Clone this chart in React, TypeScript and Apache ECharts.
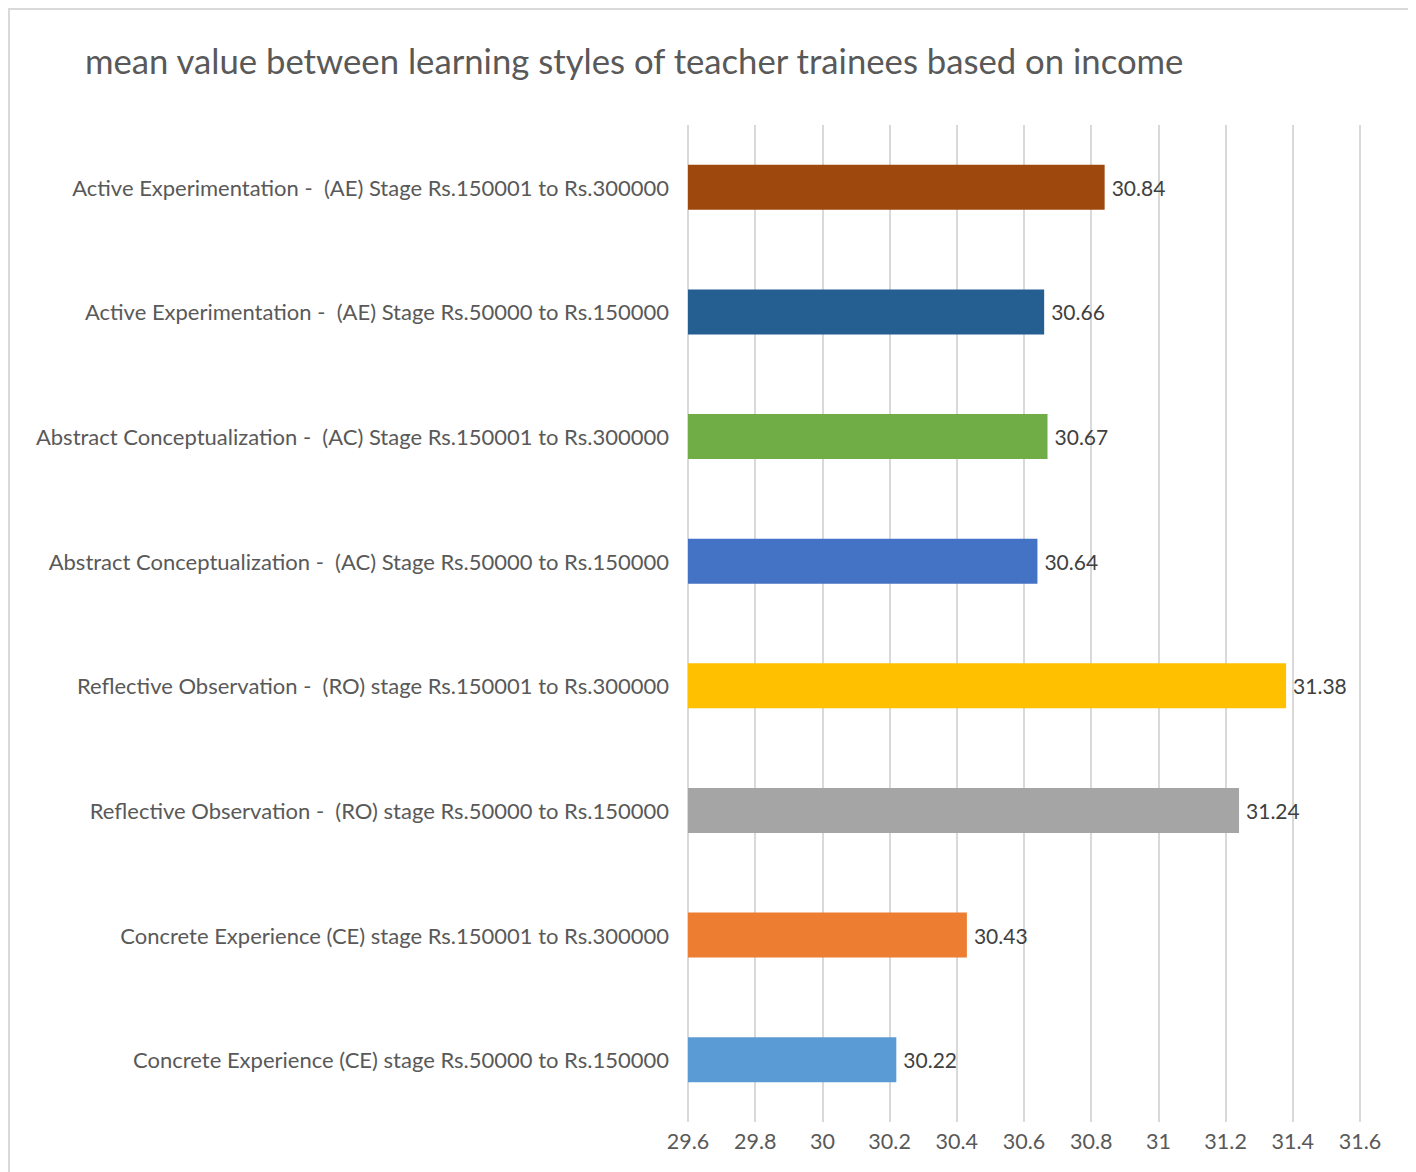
import React, { useEffect, useRef } from "react";
import * as echarts from "echarts";

const titleText = "mean value between learning styles of teacher trainees based on income";

const categories = [
  "Concrete Experience (CE) stage Rs.50000 to Rs.150000",
  "Concrete Experience (CE) stage Rs.150001 to Rs.300000",
  "Reflective Observation -  (RO) stage Rs.50000 to Rs.150000",
  "Reflective Observation -  (RO) stage Rs.150001 to Rs.300000",
  "Abstract Conceptualization -  (AC) Stage Rs.50000 to Rs.150000",
  "Abstract Conceptualization -  (AC) Stage Rs.150001 to Rs.300000",
  "Active Experimentation -  (AE) Stage Rs.50000 to Rs.150000",
  "Active Experimentation -  (AE) Stage Rs.150001 to Rs.300000",
];

const values = [30.22, 30.43, 31.24, 31.38, 30.64, 30.67, 30.66, 30.84];

const barColors = [
  "#5B9BD5",
  "#ED7D31",
  "#A5A5A5",
  "#FFC000",
  "#4472C4",
  "#70AD47",
  "#255E91",
  "#9E480E",
];

const axisMin = 29.6;
const axisMax = 31.6;
const axisStep = 0.2;

const FONT = "Lato, 'Noto Sans', sans-serif";

export default function App() {
  const ref = useRef<HTMLDivElement>(null);

  useEffect(() => {
    if (!ref.current) return;
    const chart = echarts.init(ref.current, null, { renderer: "svg" });
    chart.setOption({
      animation: false,
      backgroundColor: "#ffffff",
      title: {
        text: titleText,
        left: 70,
        top: 28,
        textStyle: {
          fontFamily: FONT,
          fontSize: 34.7,
          fontWeight: "normal",
          color: "#595959",
        },
      },
      grid: {
        left: 678,
        top: 115,
        width: 672,
        height: 997,
        containLabel: false,
      },
      xAxis: {
        type: "value",
        min: axisMin,
        max: axisMax,
        interval: axisStep,
        axisLine: { show: false },
        axisTick: { show: false },
        splitLine: { show: true, lineStyle: { color: "#D9D9D9", width: 2 } },
        axisLabel: {
          margin: 8,
          fontFamily: FONT,
          fontSize: 21.5,
          color: "#595959",
          formatter: (v: number) => String(Math.round(v * 10) / 10),
        },
      },
      yAxis: {
        type: "category",
        data: categories,
        axisLine: { show: false },
        axisTick: { show: false },
        splitLine: { show: false },
        axisLabel: {
          margin: 19,
          fontFamily: FONT,
          fontSize: 22,
          color: "#595959",
        },
      },
      series: [
        {
          type: "bar",
          barWidth: 45,
          data: values.map((v, i) => ({
            value: v,
            itemStyle: { color: barColors[i] },
          })),
          label: {
            show: true,
            position: "right",
            distance: 7,
            fontFamily: FONT,
            fontSize: 21,
            color: "#404040",
            formatter: (p: any) => p.value.toFixed(2),
          },
        },
      ],
    });
    return () => chart.dispose();
  }, []);

  return (
    <div
      style={{
        width: 1400,
        height: 1200,
        border: "2px solid #D9D9D9",
        boxSizing: "content-box",
        background: "#fff",
      }}
    >
      <div ref={ref} style={{ width: 1400, height: 1200 }} />
    </div>
  );
}
